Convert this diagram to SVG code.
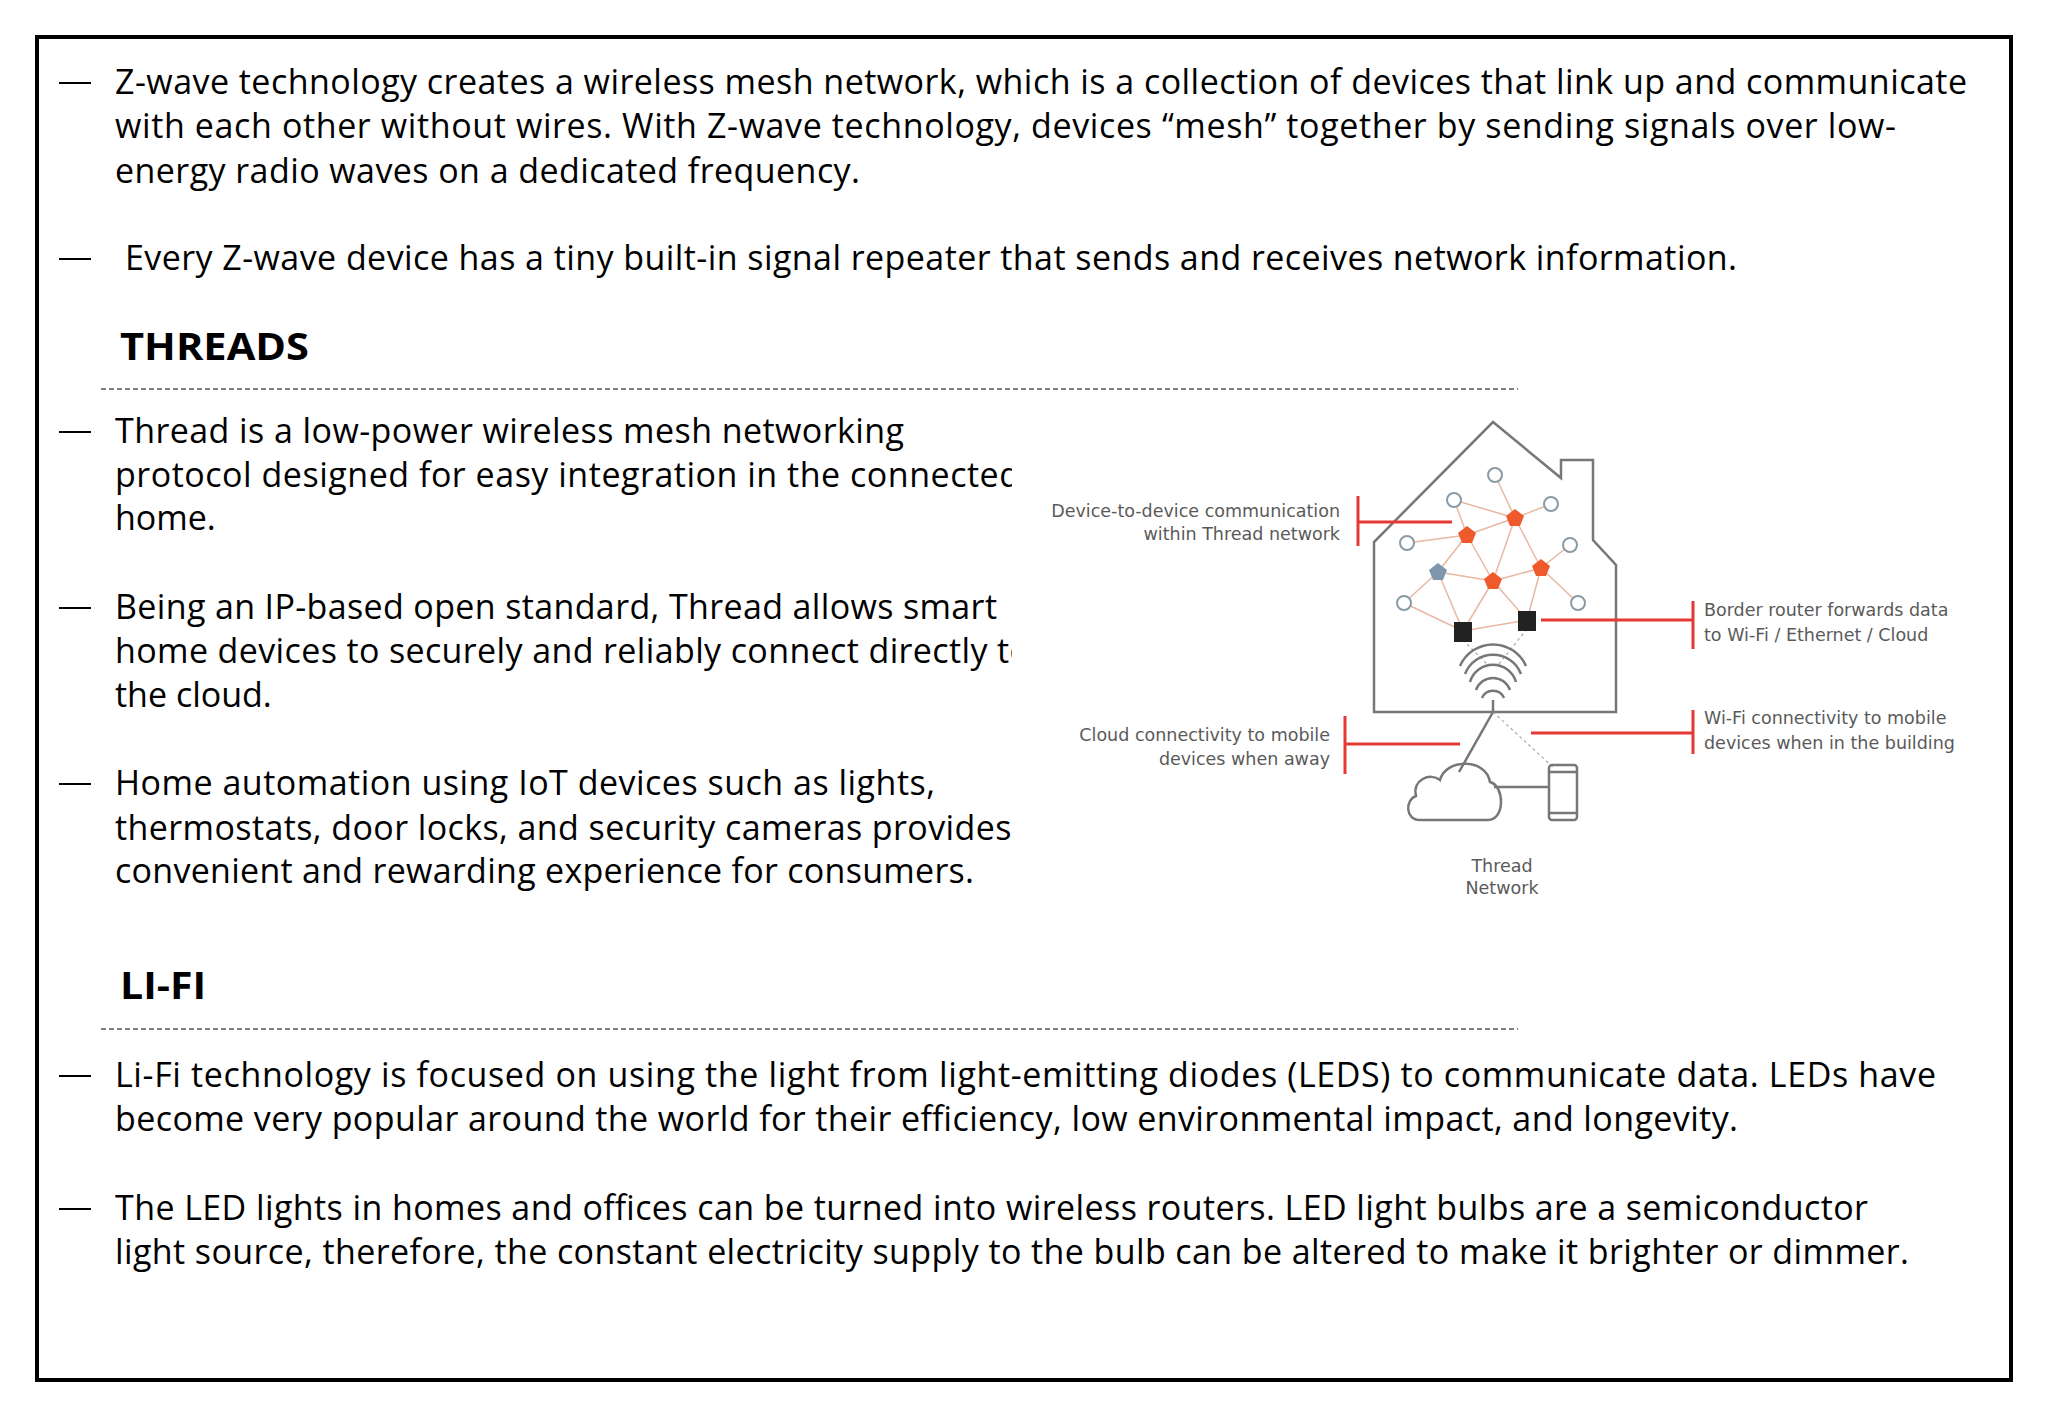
<svg xmlns="http://www.w3.org/2000/svg" width="2048" height="1418" viewBox="0 0 2048 1418">
<style>
.t{font-family:"Open Sans","Noto Sans",sans-serif;font-size:34px;fill:#000}
.h{font-family:"Open Sans","Noto Sans",sans-serif;font-size:38px;font-weight:bold;fill:#000}
.d{stroke:#000;stroke-width:2}
.dash{stroke:#555;stroke-width:1.5;stroke-dasharray:5 3}
.l{font-family:"DejaVu Sans","Liberation Sans",sans-serif;font-size:17.5px;fill:#5a5a5a}
.r{stroke:#e53935;stroke-width:3;fill:none}
.g{stroke:#777;stroke-width:2.5;fill:none}
.c{stroke:#8a9aa5;stroke-width:2;fill:#fff}
.m{stroke:#e8b8a0;stroke-width:1.5}
</style>
<defs><clipPath id="cl"><rect x="0" y="400" width="1012" height="520"/></clipPath></defs>
<rect width="2048" height="1418" fill="#fff"/>
<rect x="37" y="37" width="1974" height="1343" fill="none" stroke="#000" stroke-width="4"/>
<g id="text">
<line class="d" x1="59" y1="83" x2="91" y2="83"/>
<text class="t" x="115" y="94" textLength="1852" lengthAdjust="spacing">Z-wave technology creates a wireless mesh network, which is a collection of devices that link up and communicate</text>
<text class="t" x="115" y="138" textLength="1781" lengthAdjust="spacing">with each other without wires. With Z-wave technology, devices “mesh” together by sending signals over low-</text>
<text class="t" x="115" y="183" textLength="745" lengthAdjust="spacing">energy radio waves on a dedicated frequency.</text>
<line class="d" x1="59" y1="259" x2="91" y2="259"/>
<text class="t" x="125" y="270" textLength="1612" lengthAdjust="spacing">Every Z-wave device has a tiny built-in signal repeater that sends and receives network information.</text>
<text class="h" x="120" y="360" textLength="189" lengthAdjust="spacingAndGlyphs">THREADS</text>
<line class="dash" x1="101" y1="389" x2="1518" y2="389"/>
<g clip-path="url(#cl)">
<line class="d" x1="59" y1="432" x2="91" y2="432"/>
<text class="t" x="115" y="443" textLength="789" lengthAdjust="spacing">Thread is a low-power wireless mesh networking</text>
<text class="t" x="115" y="487" textLength="905" lengthAdjust="spacing">protocol designed for easy integration in the connected</text>
<text class="t" x="115" y="530">home.</text>
<line class="d" x1="59" y1="608" x2="91" y2="608"/>
<text class="t" x="115" y="619" textLength="882" lengthAdjust="spacing">Being an IP-based open standard, Thread allows smart</text>
<text class="t" x="115" y="663" textLength="915" lengthAdjust="spacing">home devices to securely and reliably connect directly to</text>
<text class="t" x="115" y="707">the cloud.</text>
<line class="d" x1="59" y1="784" x2="91" y2="784"/>
<text class="t" x="115" y="795" textLength="820" lengthAdjust="spacing">Home automation using IoT devices such as lights,</text>
<text class="t" x="115" y="840" textLength="925" lengthAdjust="spacing">thermostats, door locks, and security cameras provides a</text>
<text class="t" x="115" y="883" textLength="859" lengthAdjust="spacing">convenient and rewarding experience for consumers.</text>
</g>
<text class="h" x="120" y="999" textLength="86" lengthAdjust="spacingAndGlyphs">LI-FI</text>
<line class="dash" x1="101" y1="1029" x2="1518" y2="1029"/>
<line class="d" x1="59" y1="1076" x2="91" y2="1076"/>
<text class="t" x="115" y="1087" textLength="1821" lengthAdjust="spacing">Li-Fi technology is focused on using the light from light-emitting diodes (LEDS) to communicate data. LEDs have</text>
<text class="t" x="115" y="1131" textLength="1623" lengthAdjust="spacing">become very popular around the world for their efficiency, low environmental impact, and longevity.</text>
<line class="d" x1="59" y1="1209" x2="91" y2="1209"/>
<text class="t" x="115" y="1220" textLength="1753" lengthAdjust="spacing">The LED lights in homes and offices can be turned into wireless routers. LED light bulbs are a semiconductor</text>
<text class="t" x="115" y="1264" textLength="1794" lengthAdjust="spacing">light source, therefore, the constant electricity supply to the bulb can be altered to make it brighter or dimmer.</text>
</g>
<g id="house">
<path class="g" d="M1374,548 L1374,712 L1616,712 L1616,565 L1593,540 L1593,460 L1561,460 L1561,478 L1493,422 L1374,542 Z"/>
</g>
<g id="mesh">
<g class="m">
<line x1="1495" y1="475" x2="1515" y2="518"/><line x1="1454" y1="500" x2="1467" y2="535"/><line x1="1454" y1="500" x2="1515" y2="518"/>
<line x1="1551" y1="504" x2="1515" y2="518"/><line x1="1407" y1="543" x2="1467" y2="535"/><line x1="1570" y1="545" x2="1541" y2="568"/>
<line x1="1515" y1="518" x2="1467" y2="535"/><line x1="1515" y1="518" x2="1493" y2="581"/><line x1="1515" y1="518" x2="1541" y2="568"/>
<line x1="1467" y1="535" x2="1438" y2="572"/><line x1="1467" y1="535" x2="1493" y2="581"/><line x1="1438" y1="572" x2="1493" y2="581"/>
<line x1="1493" y1="581" x2="1541" y2="568"/><line x1="1438" y1="572" x2="1404" y2="603"/><line x1="1438" y1="572" x2="1463" y2="631"/>
<line x1="1493" y1="581" x2="1463" y2="631"/><line x1="1493" y1="581" x2="1527" y2="620"/><line x1="1541" y1="568" x2="1527" y2="620"/>
<line x1="1541" y1="568" x2="1578" y2="603"/><line x1="1404" y1="603" x2="1463" y2="631"/><line x1="1463" y1="631" x2="1527" y2="620"/>
</g>
<g stroke="#aaa" stroke-width="1.2" stroke-dasharray="3 3"><line x1="1463" y1="640" x2="1488" y2="665"/><line x1="1527" y1="629" x2="1498" y2="665"/><line x1="1493" y1="712" x2="1554" y2="768"/></g>
<circle class="c" cx="1495" cy="475" r="7"/><circle class="c" cx="1454" cy="500" r="7"/><circle class="c" cx="1551" cy="504" r="7"/>
<circle class="c" cx="1407" cy="543" r="7"/><circle class="c" cx="1570" cy="545" r="7"/><circle class="c" cx="1404" cy="603" r="7"/><circle class="c" cx="1578" cy="603" r="7"/>
<g fill="#ee5a2c">
<polygon points="1515,509 1524,516 1520,526 1510,526 1506,516"/>
<polygon points="1467,526 1476,533 1472,543 1462,543 1458,533"/>
<polygon points="1541,559 1550,566 1546,576 1536,576 1532,566"/>
<polygon points="1493,572 1502,579 1498,589 1488,589 1484,579"/>
</g>
<polygon fill="#7f97ac" points="1438,563 1447,570 1443,580 1433,580 1429,570"/>
<rect x="1454" y="622" width="18" height="20" fill="#222"/>
<rect x="1518" y="611" width="18" height="20" fill="#222"/>
</g>
<g id="wifi" class="g" stroke-width="2">
<path d="M1465,674 A30,30 0 0 1 1521,674"/><path d="M1470,682 A24,24 0 0 1 1516,682"/><path d="M1476,690 A18,18 0 0 1 1510,690"/>
<path d="M1482,698 A12,12 0 0 1 1504,698"/><path d="M1460,666 A36,36 0 0 1 1526,666"/>
<line x1="1493" y1="700" x2="1493" y2="712"/>
</g>
<g id="cloudphone" class="g">
<line x1="1493" y1="712" x2="1459" y2="772"/>
<path d="M1420,820 C1405,820 1405,800 1416,796 C1412,780 1430,772 1440,780 C1446,758 1486,758 1490,782 C1505,786 1505,820 1488,820 Z"/>
<line x1="1494" y1="787" x2="1548" y2="787"/>
<rect x="1549" y="765" width="28" height="55" rx="3"/>
<line x1="1549" y1="772" x2="1577" y2="772"/><line x1="1549" y1="813" x2="1577" y2="813"/>
</g>
<g id="callouts">
<path class="r" d="M1358,496 L1358,546 M1358,522 L1452,522"/>
<path class="r" d="M1693,601 L1693,649 M1541,620 L1693,620"/>
<path class="r" d="M1345,716 L1345,774 M1345,744 L1460,744"/>
<path class="r" d="M1693,710 L1693,754 M1531,733 L1693,733"/>
<text class="l" text-anchor="end"><tspan x="1340" y="517">Device-to-device communication</tspan><tspan x="1340" y="540">within Thread network</tspan></text>
<text class="l"><tspan x="1704" y="616">Border router forwards data</tspan><tspan x="1704" y="641">to Wi-Fi / Ethernet / Cloud</tspan></text>
<text class="l"><tspan x="1704" y="724">Wi-Fi connectivity to mobile</tspan><tspan x="1704" y="749">devices when in the building</tspan></text>
<text class="l" text-anchor="end"><tspan x="1330" y="741">Cloud connectivity to mobile</tspan><tspan x="1330" y="765">devices when away</tspan></text>
<text class="l" text-anchor="middle" font-size="21"><tspan x="1502" y="872">Thread</tspan><tspan x="1502" y="894">Network</tspan></text>
</g>
</svg>
